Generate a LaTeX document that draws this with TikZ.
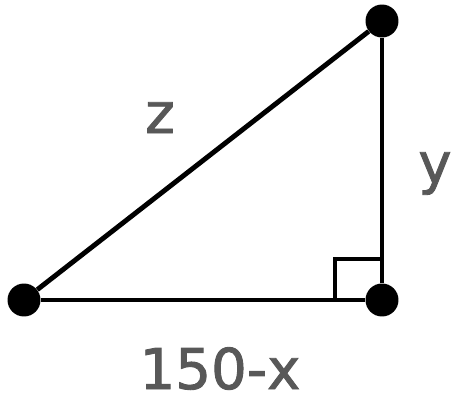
\documentclass[tikz,border=0pt]{standalone}
\usepackage{fontspec}
\usepackage{xcolor}
\usetikzlibrary{calc}
\newfontfamily\labelfont[FakeBold=1.6]{DejaVu Sans}
\definecolor{ink}{HTML}{000000}
\definecolor{labelgray}{HTML}{585858}

\begin{document}
\begin{tikzpicture}[x=0.02cm,y=-0.02cm,
  vertex/.style={circle,fill=ink,inner sep=0pt,minimum size=0.66cm},
  side/.style={draw=ink,line width=2.8pt},
  lbl/.style={font=\labelfont\fontsize{32}{36}\selectfont,text=labelgray,anchor=base,inner sep=0pt}
]
  \useasboundingbox (0,0) rectangle (454,406);
  \node[vertex] (left)  at (24,300)  {};
  \node[vertex] (right) at (382,300) {};
  \node[vertex] (top)   at (382,21)  {};
  \draw[side] (left) -- (right);
  \draw[side] (right) -- (top);
  \draw[side] (left) -- (top);
  \draw[side,line width=2.4pt] ($(right.center)+(-47,0)$) |- ($(right.center)+(0,-41)$);
  \node[lbl] (hyp) at (160,133) {z};
  \node[lbl] (leg) at (435,183) {y};
  \node[lbl] (base) at (220,389) {150-x};
\end{tikzpicture}
\end{document}
